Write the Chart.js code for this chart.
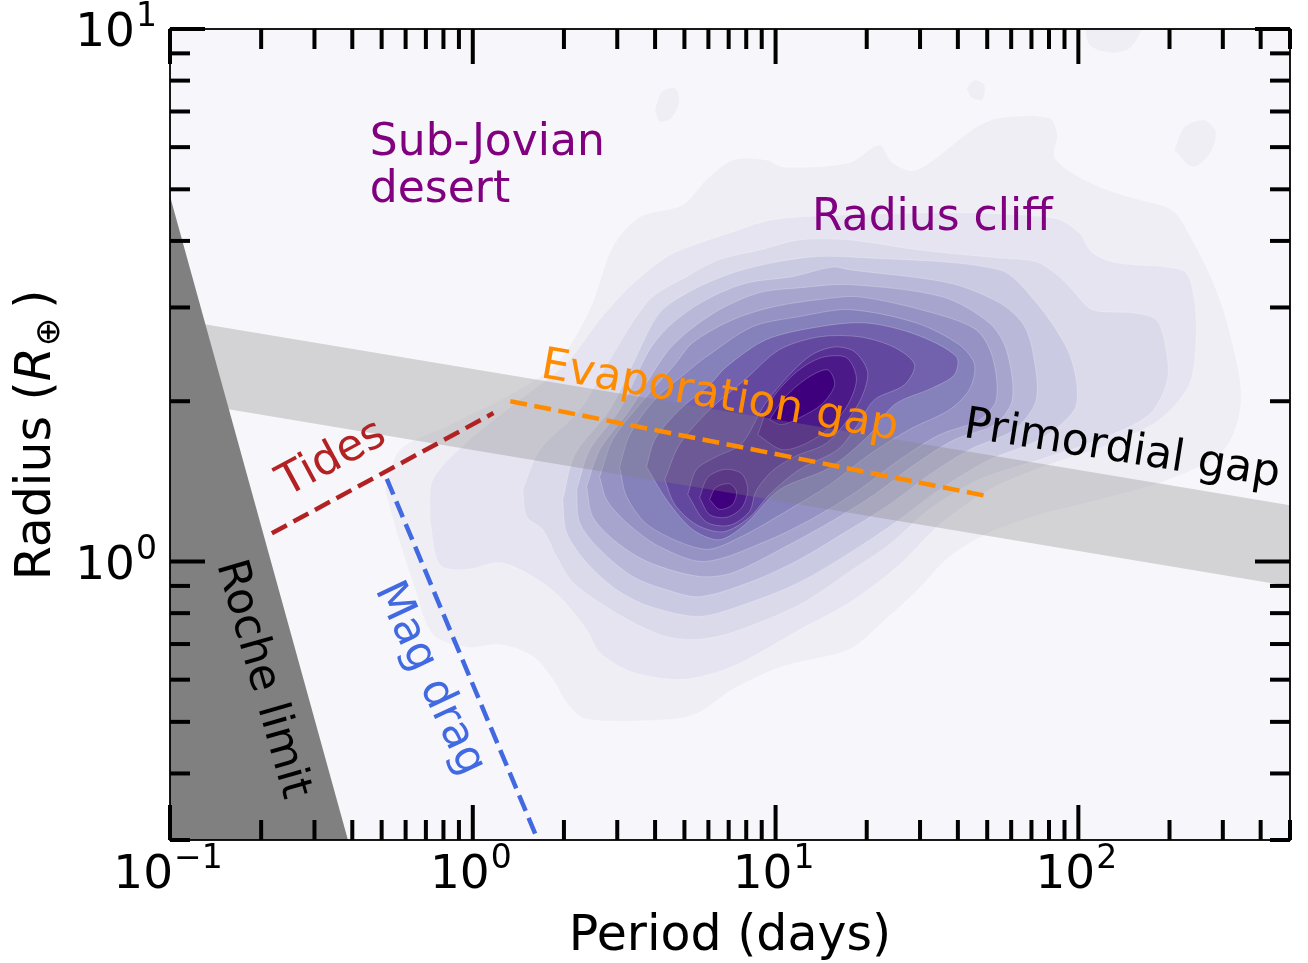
<!DOCTYPE html>
<html>
<head>
<meta charset="utf-8">
<title>Radius - period plane</title>
<script src="https://cdn.jsdelivr.net/npm/chart.js@4.4.0/dist/chart.umd.min.js"></script>
<style>
  html, body { margin: 0; padding: 0; background: #fff; }
  #chart { display: block; }
</style>
</head>
<body>
<canvas id="chart" width="1308" height="963"></canvas>
<script>
// axis ranges and ticks
const periodRange = [0.1, 500];
const radiusRange = [0.3, 10];
const xDecades = [0.1, 1, 10, 100];
const xDecadeLabels = ['\u22121', '0', '1', '2'];
const yDecades = [1, 10];
const yDecadeLabels = ['0', '1'];
const xMinorTicks = [0.2, 0.3, 0.4, 0.5, 0.6, 0.7, 0.8, 0.9, 2, 3, 4, 5, 6, 7, 8, 9,
                     20, 30, 40, 50, 60, 70, 80, 90, 200, 300, 400, 500];
const yMinorTicks = [0.3, 0.4, 0.5, 0.6, 0.7, 0.8, 0.9, 2, 3, 4, 5, 6, 7, 8, 9];

// density contours of the planet sample, outermost level first
// each point is [log10 period (days), log10 radius (R_earth)]
const densityLevel1 = [[-0.290,0.135],[-0.241,0.210],[-0.076,0.257],[0.122,0.313],[0.277,0.373],[0.386,0.473],
  [0.462,0.591],[0.551,0.647],[0.693,0.670],[0.772,0.717],[0.858,0.754],[0.970,0.754],[1.023,0.741],[1.244,0.749],
  [1.343,0.782],[1.386,0.749],[1.465,0.735],[1.663,0.816],[1.739,0.833],[1.904,0.833],[1.931,0.801],[1.921,0.760],
  [1.980,0.730],[2.069,0.704],[2.178,0.683],[2.310,0.660],[2.376,0.604],[2.442,0.529],[2.498,0.435],[2.538,0.304],
  [2.482,0.210],[2.300,0.154],[2.069,0.116],[1.871,0.088],[1.706,0.054],[1.574,0.009],[1.465,-0.056],[1.353,-0.114],
  [1.244,-0.165],[1.023,-0.197],[0.858,-0.240],[0.749,-0.283],[0.660,-0.296],[0.376,-0.296],[0.310,-0.265],
  [0.264,-0.221],[0.198,-0.178],[0.089,-0.156],[-0.020,-0.161],[-0.132,-0.137],[-0.198,-0.039],[-0.251,0.054]];
const densityIslands = [
  [[0.601,0.848],[0.624,0.882],[0.667,0.889],[0.683,0.867],[0.657,0.833],[0.617,0.826]],
  [[2.317,0.773],[2.350,0.816],[2.416,0.829],[2.455,0.805],[2.432,0.764],[2.376,0.741]],
  [[1.630,0.889],[1.657,0.904],[1.690,0.895],[1.683,0.867],[1.647,0.871]],
  [[2.020,1.017],[2.036,0.970],[2.112,0.955],[2.175,0.966],[2.211,1.017]]];
const densityLevel2 = [[-0.142,0.079],[-0.132,0.154],[-0.010,0.229],[0.155,0.304],[0.310,0.373],[0.419,0.454],
  [0.518,0.516],[0.640,0.572],[0.749,0.598],[0.858,0.619],[0.990,0.642],[1.244,0.651],[1.574,0.655],[1.805,0.651],
  [1.937,0.642],[2.003,0.617],[2.046,0.580],[2.125,0.561],[2.290,0.553],[2.356,0.542],[2.383,0.492],[2.389,0.417],
  [2.366,0.332],[2.267,0.266],[2.102,0.220],[1.904,0.182],[1.706,0.135],[1.541,0.069],[1.409,-0.006],[1.244,-0.077],
  [1.079,-0.128],[0.858,-0.197],[0.693,-0.221],[0.528,-0.208],[0.419,-0.171],[0.376,-0.128],[0.287,-0.066],
  [0.198,-0.028],[0.089,-0.002],[-0.020,-0.015],[-0.109,-0.006]];
const densityLevel3 = [[0.165,0.135],[0.221,0.210],[0.353,0.285],[0.452,0.379],[0.584,0.492],[0.706,0.535],
  [0.815,0.567],[0.947,0.585],[1.079,0.604],[1.244,0.604],[1.475,0.585],[1.739,0.570],[1.861,0.563],[1.937,0.535],
  [1.980,0.510],[2.046,0.473],[2.178,0.467],[2.257,0.454],[2.287,0.407],[2.294,0.341],[2.234,0.276],[2.069,0.229],
  [1.871,0.191],[1.673,0.154],[1.508,0.098],[1.376,0.032],[1.244,-0.019],[1.079,-0.081],[0.858,-0.133],
  [0.749,-0.146],[0.640,-0.141],[0.528,-0.114],[0.419,-0.077],[0.330,-0.039],[0.277,0.009],[0.231,0.060],[0.178,0.084]];
const densityLevel4 = [[0.297,0.116],[0.337,0.201],[0.452,0.285],[0.535,0.379],[0.617,0.467],[0.726,0.510],
  [0.858,0.542],[0.990,0.561],[1.122,0.572],[1.244,0.572],[1.739,0.548],[1.861,0.486],[1.960,0.403],[1.993,0.341],
  [1.987,0.285],[1.871,0.229],[1.706,0.191],[1.541,0.135],[1.409,0.079],[1.277,0.028],[1.079,-0.039],[0.914,-0.077],
  [0.749,-0.103],[0.584,-0.084],[0.475,-0.053],[0.376,-0.002],[0.310,0.054]];
const densityLevel5 = [[0.343,0.135],[0.386,0.210],[0.485,0.285],[0.584,0.398],[0.660,0.448],[0.772,0.492],
  [0.904,0.523],[1.056,0.535],[1.188,0.553],[1.244,0.548],[1.574,0.523],[1.739,0.486],[1.815,0.448],[1.848,0.398],
  [1.861,0.304],[1.789,0.248],[1.640,0.210],[1.508,0.163],[1.376,0.107],[1.244,0.060],[1.079,0.004],[0.914,-0.039],
  [0.749,-0.066],[0.640,-0.053],[0.528,-0.028],[0.419,0.023],[0.353,0.073]];
const densityLevel6 = [[0.376,0.141],[0.419,0.210],[0.518,0.285],[0.634,0.388],[0.706,0.430],[0.815,0.473],
  [0.947,0.505],[1.079,0.514],[1.244,0.520],[1.551,0.497],[1.706,0.448],[1.762,0.398],[1.782,0.304],[1.723,0.257],
  [1.591,0.229],[1.459,0.182],[1.327,0.126],[1.195,0.079],[1.046,0.032],[0.858,-0.021],[0.749,-0.028],
  [0.584,-0.002],[0.475,0.036],[0.396,0.084]];
const densityLevel7 = [[0.419,0.159],[0.462,0.229],[0.551,0.295],[0.667,0.370],[0.726,0.411],[0.858,0.454],
  [0.990,0.478],[1.145,0.492],[1.277,0.497],[1.518,0.467],[1.663,0.435],[1.716,0.385],[1.729,0.304],[1.673,0.266],
  [1.541,0.238],[1.409,0.191],[1.277,0.135],[1.145,0.088],[0.980,0.041],[0.766,0.000],[0.617,0.028],[0.508,0.073],
  [0.442,0.116]];
const densityLevel8 = [[0.485,0.178],[0.518,0.238],[0.601,0.304],[0.716,0.360],[0.772,0.385],[0.924,0.441],
  [1.079,0.460],[1.244,0.473],[1.465,0.448],[1.607,0.407],[1.657,0.370],[1.640,0.323],[1.574,0.285],[1.442,0.248],
  [1.310,0.201],[1.178,0.144],[1.046,0.098],[0.881,0.045],[0.766,0.023],[0.584,0.066],[0.508,0.122]];
const densityLevel9 = [[0.574,0.178],[0.601,0.229],[0.683,0.285],[0.782,0.332],[0.838,0.366],[0.970,0.417],
  [1.145,0.441],[1.300,0.448],[1.465,0.426],[1.597,0.385],[1.591,0.351],[1.518,0.326],[1.393,0.295],[1.310,0.238],
  [1.178,0.176],[1.013,0.135],[0.898,0.069],[0.815,0.041],[0.726,0.060],[0.640,0.116]];
const densityLevel10 = [[0.634,0.154],[0.683,0.220],[0.782,0.285],[0.898,0.341],[1.013,0.398],[1.145,0.422],
  [1.277,0.422],[1.393,0.402],[1.459,0.370],[1.426,0.332],[1.327,0.304],[1.271,0.257],[1.205,0.210],[1.079,0.173],
  [0.980,0.126],[0.914,0.083],[0.828,0.056],[0.739,0.069],[0.667,0.107]];
const densityLevel11 = [[0.710,0.126],[0.739,0.173],[0.805,0.197],[0.888,0.221],[0.964,0.295],[1.046,0.351],
  [1.119,0.388],[1.195,0.403],[1.261,0.394],[1.304,0.356],[1.284,0.308],[1.234,0.263],[1.165,0.221],[1.063,0.197],
  [0.987,0.169],[0.934,0.131],[0.914,0.094],[0.848,0.068],[0.769,0.075]];
const densityLevel12Upper = [[0.941,0.238],[0.987,0.304],[1.069,0.356],[1.152,0.383],[1.234,0.383],[1.267,0.345],
  [1.244,0.300],[1.188,0.257],[1.112,0.225],[1.023,0.210]];
const densityLevel12Lower = [[0.749,0.120],[0.776,0.158],[0.832,0.173],[0.888,0.165],[0.908,0.135],[0.888,0.101],
  [0.838,0.083],[0.782,0.088]];
const densityLevel13Upper = [[0.980,0.266],[1.030,0.308],[1.106,0.345],[1.172,0.360],[1.195,0.332],[1.152,0.295],
  [1.079,0.270],[1.020,0.257]];
const densityLevel13Lower = [[0.782,0.116],[0.802,0.139],[0.848,0.146],[0.871,0.131],[0.858,0.107],[0.815,0.098]];

// other regions and boundaries, [period, radius]
const gapUpper = [[0.1, 2.86], [500, 1.276]];
const gapLower = [[500, 0.899], [0.1, 2.016]];
const rocheEdge = [[0.1, 4.85], [0.387, 0.3], [0.1, 0.3]];
const tidesLine = [[0.217, 1.13], [1.17, 1.90]];
const evapLine = [[1.33, 2.00], [49, 1.33]];
const magDragLine = [[0.52, 1.43], [1.64, 0.30]];

const levelColors = ['#efeef5', '#e5e4f0', '#dadaeb', '#cacae2', '#b9b8d9', '#a7a5cd', '#9692c4',
                     '#8581bb', '#7262ad', '#63489f', '#573193', '#4b1a88', '#3f007d'];

function fromLog(pairs) {
  const pts = pairs.map(p => ({ x: Math.pow(10, p[0]), y: Math.pow(10, p[1]) }));
  pts.push(pts[0]);
  return pts;
}
function fromPlain(pairs, close) {
  const pts = pairs.map(p => ({ x: p[0], y: p[1] }));
  if (close) pts.push(pts[0]);
  return pts;
}
function contour(pairs, color) {
  return { data: fromLog(pairs), fill: 'shape', backgroundColor: color,
           borderColor: 'rgba(255,255,255,0.28)', borderWidth: 0.8, tension: 0.3 };
}
function dashed(pairs, color) {
  return { data: fromPlain(pairs, false), fill: false, borderColor: color,
           borderWidth: 4.5, borderDash: [17, 7.5], tension: 0 };
}

const layers = [];
layers.push(contour(densityLevel1, levelColors[0]));
densityIslands.forEach(d => layers.push(contour(d, levelColors[0])));
[densityLevel2, densityLevel3, densityLevel4, densityLevel5, densityLevel6, densityLevel7,
 densityLevel8, densityLevel9, densityLevel10, densityLevel11].forEach((d, i) => layers.push(contour(d, levelColors[i + 1])));
layers.push(contour(densityLevel12Upper, levelColors[11]));
layers.push(contour(densityLevel12Lower, levelColors[11]));
layers.push(contour(densityLevel13Upper, levelColors[12]));
layers.push(contour(densityLevel13Lower, levelColors[12]));
layers.push({ data: fromPlain(gapUpper.concat(gapLower), true), fill: 'shape',
              backgroundColor: 'rgba(128,128,128,0.3)', borderWidth: 0, tension: 0 });
layers.push({ data: fromPlain(rocheEdge, true), fill: 'shape', backgroundColor: '#808080',
              borderWidth: 0, tension: 0 });
layers.push(dashed(tidesLine, '#b22222'));
layers.push(dashed(evapLine, '#ff8c00'));
layers.push(dashed(magDragLine, '#4169e1'));
layers.forEach((d, i) => { d.order = layers.length - i; d.pointRadius = 0; d.pointHitRadius = 0; });

const notes = [
  { text: 'Sub-Jovian', period: 0.457, radius: 5.80, color: '#800080', angle: 0 },
  { text: 'desert', period: 0.457, radius: 4.74, color: '#800080', angle: 0 },
  { text: 'Radius cliff', period: 13.2, radius: 4.20, color: '#800080', angle: 0 },
  { text: 'Evaporation gap', period: 1.66, radius: 2.22, color: '#ff8c00', angle: 10 },
  { text: 'Primordial gap', period: 41.4, radius: 1.716, color: '#000000', angle: 9 },
  { text: 'Tides', period: 0.243, radius: 1.324, color: '#b22222', angle: -28.4 },
  { text: 'Mag drag', period: 0.475, radius: 0.886, color: '#4169e1', angle: 65 },
  { text: 'Roche limit', period: 0.143, radius: 0.987, color: '#000000', angle: 74 }
];

const FONT = '"DejaVu Sans"';

const plotBackground = {
  id: 'plotBackground',
  beforeDatasetsDraw(chart) {
    const { ctx, chartArea: a } = chart;
    ctx.save();
    ctx.fillStyle = '#f7f6fa';
    ctx.fillRect(a.left, a.top, a.right - a.left, a.bottom - a.top);
    ctx.restore();
  }
};

function powerLabel(ctx, exp, px, baseY, align) {
  ctx.font = '47px ' + FONT;
  const wb = ctx.measureText('10').width;
  ctx.font = '33px ' + FONT;
  const we = ctx.measureText(exp).width;
  const total = wb + 1 + we;
  const left = align === 'center' ? px - total / 2 : px - total;
  ctx.font = '47px ' + FONT;
  ctx.fillText('10', left, baseY);
  ctx.font = '33px ' + FONT;
  ctx.fillText(exp, left + wb + 1, baseY - 20);
}

const frameAndText = {
  id: 'frameAndText',
  afterDatasetsDraw(chart) {
    const { ctx, chartArea: a, scales: { x, y } } = chart;
    ctx.save();
    ctx.textAlign = 'left';
    ctx.textBaseline = 'alphabetic';

    // annotations
    ctx.font = '44px ' + FONT;
    notes.forEach(n => {
      ctx.save();
      ctx.translate(x.getPixelForValue(n.period), y.getPixelForValue(n.radius));
      ctx.rotate(n.angle * Math.PI / 180);
      ctx.fillStyle = n.color;
      ctx.fillText(n.text, 0, 0);
      ctx.restore();
    });

    // frame
    ctx.strokeStyle = '#000';
    ctx.lineWidth = 1.8;
    ctx.strokeRect(a.left, a.top, a.right - a.left, a.bottom - a.top);

    // inward ticks on all four sides
    ctx.lineWidth = 4;
    ctx.lineCap = 'butt';
    const seg = (x1, y1, x2, y2) => { ctx.beginPath(); ctx.moveTo(x1, y1); ctx.lineTo(x2, y2); ctx.stroke(); };
    const xt = (v, len) => { const p = x.getPixelForValue(v); seg(p, a.bottom, p, a.bottom - len); seg(p, a.top, p, a.top + len); };
    const yt = (v, len) => { const p = y.getPixelForValue(v); seg(a.left, p, a.left + len, p); seg(a.right, p, a.right - len, p); };
    xMinorTicks.forEach(v => xt(v, 20));
    xDecades.forEach(v => xt(v, 35));
    yMinorTicks.forEach(v => yt(v, 20));
    yDecades.forEach(v => yt(v, 35));

    // tick labels
    ctx.fillStyle = '#000';
    xDecades.forEach((v, i) => powerLabel(ctx, xDecadeLabels[i], x.getPixelForValue(v) - 2, a.bottom + 48, 'center'));
    yDecades.forEach((v, i) => powerLabel(ctx, yDecadeLabels[i], a.left - 13, y.getPixelForValue(v) + 17, 'right'));

    // axis titles
    ctx.font = '49px ' + FONT;
    ctx.textAlign = 'center';
    ctx.fillText('Period (days)', (a.left + a.right) / 2, 950);

    ctx.save();
    ctx.translate(50, (a.top + a.bottom) / 2 + 1);
    ctx.rotate(-Math.PI / 2);
    ctx.textAlign = 'left';
    ctx.font = '49px ' + FONT;
    const w1 = ctx.measureText('Radius (').width;
    const w4 = ctx.measureText(')').width;
    ctx.font = 'italic 49px ' + FONT;
    const w2 = ctx.measureText('R').width;
    ctx.font = '34px ' + FONT;
    const w3 = ctx.measureText('\u2295').width;
    const gap = 9;
    let cx = -(w1 + w2 + w3 + gap + w4) / 2;
    ctx.font = '49px ' + FONT;
    ctx.fillText('Radius (', cx, 0); cx += w1;
    ctx.font = 'italic 49px ' + FONT;
    ctx.fillText('R', cx, 0); cx += w2 + 1;
    ctx.font = '34px ' + FONT;
    ctx.fillText('\u2295', cx, 9); cx += w3 + gap;
    ctx.font = '49px ' + FONT;
    ctx.fillText(')', cx, 0);
    ctx.restore();

    ctx.restore();
  }
};

Chart.defaults.font.family = 'DejaVu Sans';

new Chart(document.getElementById('chart'), {
  type: 'line',
  data: { datasets: layers },
  options: {
    responsive: false,
    devicePixelRatio: 1,
    animation: false,
    events: [],
    layout: { padding: { top: 29, right: 18, left: 0, bottom: 0 } },
    elements: { line: { capBezierPoints: false } },
    plugins: { legend: { display: false }, tooltip: { enabled: false } },
    scales: {
      x: {
        type: 'logarithmic', min: periodRange[0], max: periodRange[1],
        grid: { display: false }, border: { display: false }, ticks: { display: false },
        afterFit: s => { s.height = 123; }
      },
      y: {
        type: 'logarithmic', min: radiusRange[0], max: radiusRange[1],
        grid: { display: false }, border: { display: false }, ticks: { display: false },
        afterFit: s => { s.width = 170; }
      }
    }
  },
  plugins: [plotBackground, frameAndText]
});
</script>
</body>
</html>
